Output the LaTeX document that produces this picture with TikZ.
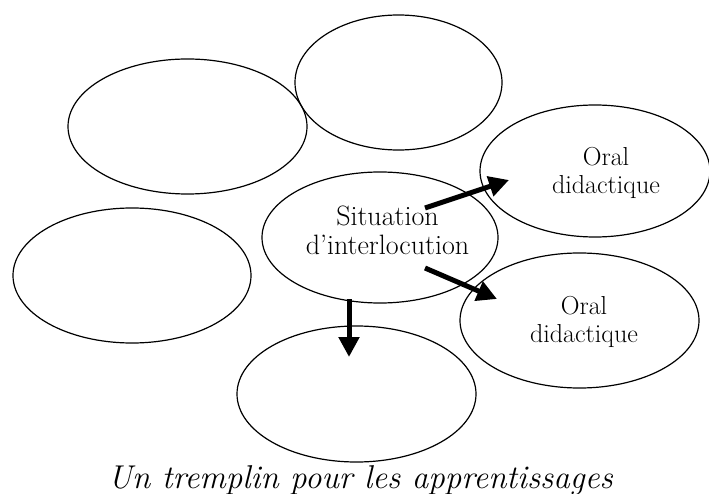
\documentclass[tikz,border=0pt]{standalone}
\usepackage{tikz}
\usetikzlibrary{shapes.geometric,arrows.meta}

\begin{document}
\begin{tikzpicture}[x=1pt,y=-1pt,
  bulle/.style={draw, ellipse, line width=1.2pt, inner sep=0pt},
  fleche/.style={line width=5pt, -{Triangle[length=20pt,width=20pt]}},
  txt/.style={align=center, font=\fontsize{28}{29}\selectfont},
  txtoral/.style={align=center, font=\fontsize{26}{28}\selectfont}]
  \useasboundingbox (0,0) rectangle (709,494);

  \node [bulle, minimum width=239pt, minimum height=135pt] (a) at (187.5,126.5) {};
  \node [bulle, minimum width=207pt, minimum height=135pt] (b) at (398.5,82.5) {};
  \node [bulle, minimum width=238pt, minimum height=135pt] (c) at (132,275.5) {};
  \node [bulle, minimum width=236pt, minimum height=131pt,
         label={[txt,xshift=7.5pt,yshift=7pt]center:Situation\\d'interlocution}] (sit) at (380,237.5) {};
  \node [bulle, minimum width=230pt, minimum height=132pt,
         label={[txtoral,xshift=11pt,yshift=-2pt]center:Oral\\didactique}] (o1) at (595,171) {};
  \node [bulle, minimum width=239pt, minimum height=135pt,
         label={[txtoral,xshift=4.5pt,yshift=-1pt]center:Oral\\didactique}] (o2) at (579.5,320.5) {};
  \node [bulle, minimum width=239pt, minimum height=136pt] (d) at (356.5,394) {};

  \draw [fleche] ([shift={(45,-29.5)}]sit.center) -- ([shift={(-86,9)}]o1.center);
  \draw [fleche] ([shift={(45,30.5)}]sit.center) -- ([shift={(-82.5,-21.5)}]o2.center);
  \draw [fleche] ([shift={(-31,61.5)}]sit.center) -- ([shift={(-7.5,-37)}]d.center);

  \node [anchor=base, font=\itshape\fontsize{33}{38}\selectfont] (titre) at (360.5,488)
        {Un tremplin pour les apprentissages};
\end{tikzpicture}
\end{document}
